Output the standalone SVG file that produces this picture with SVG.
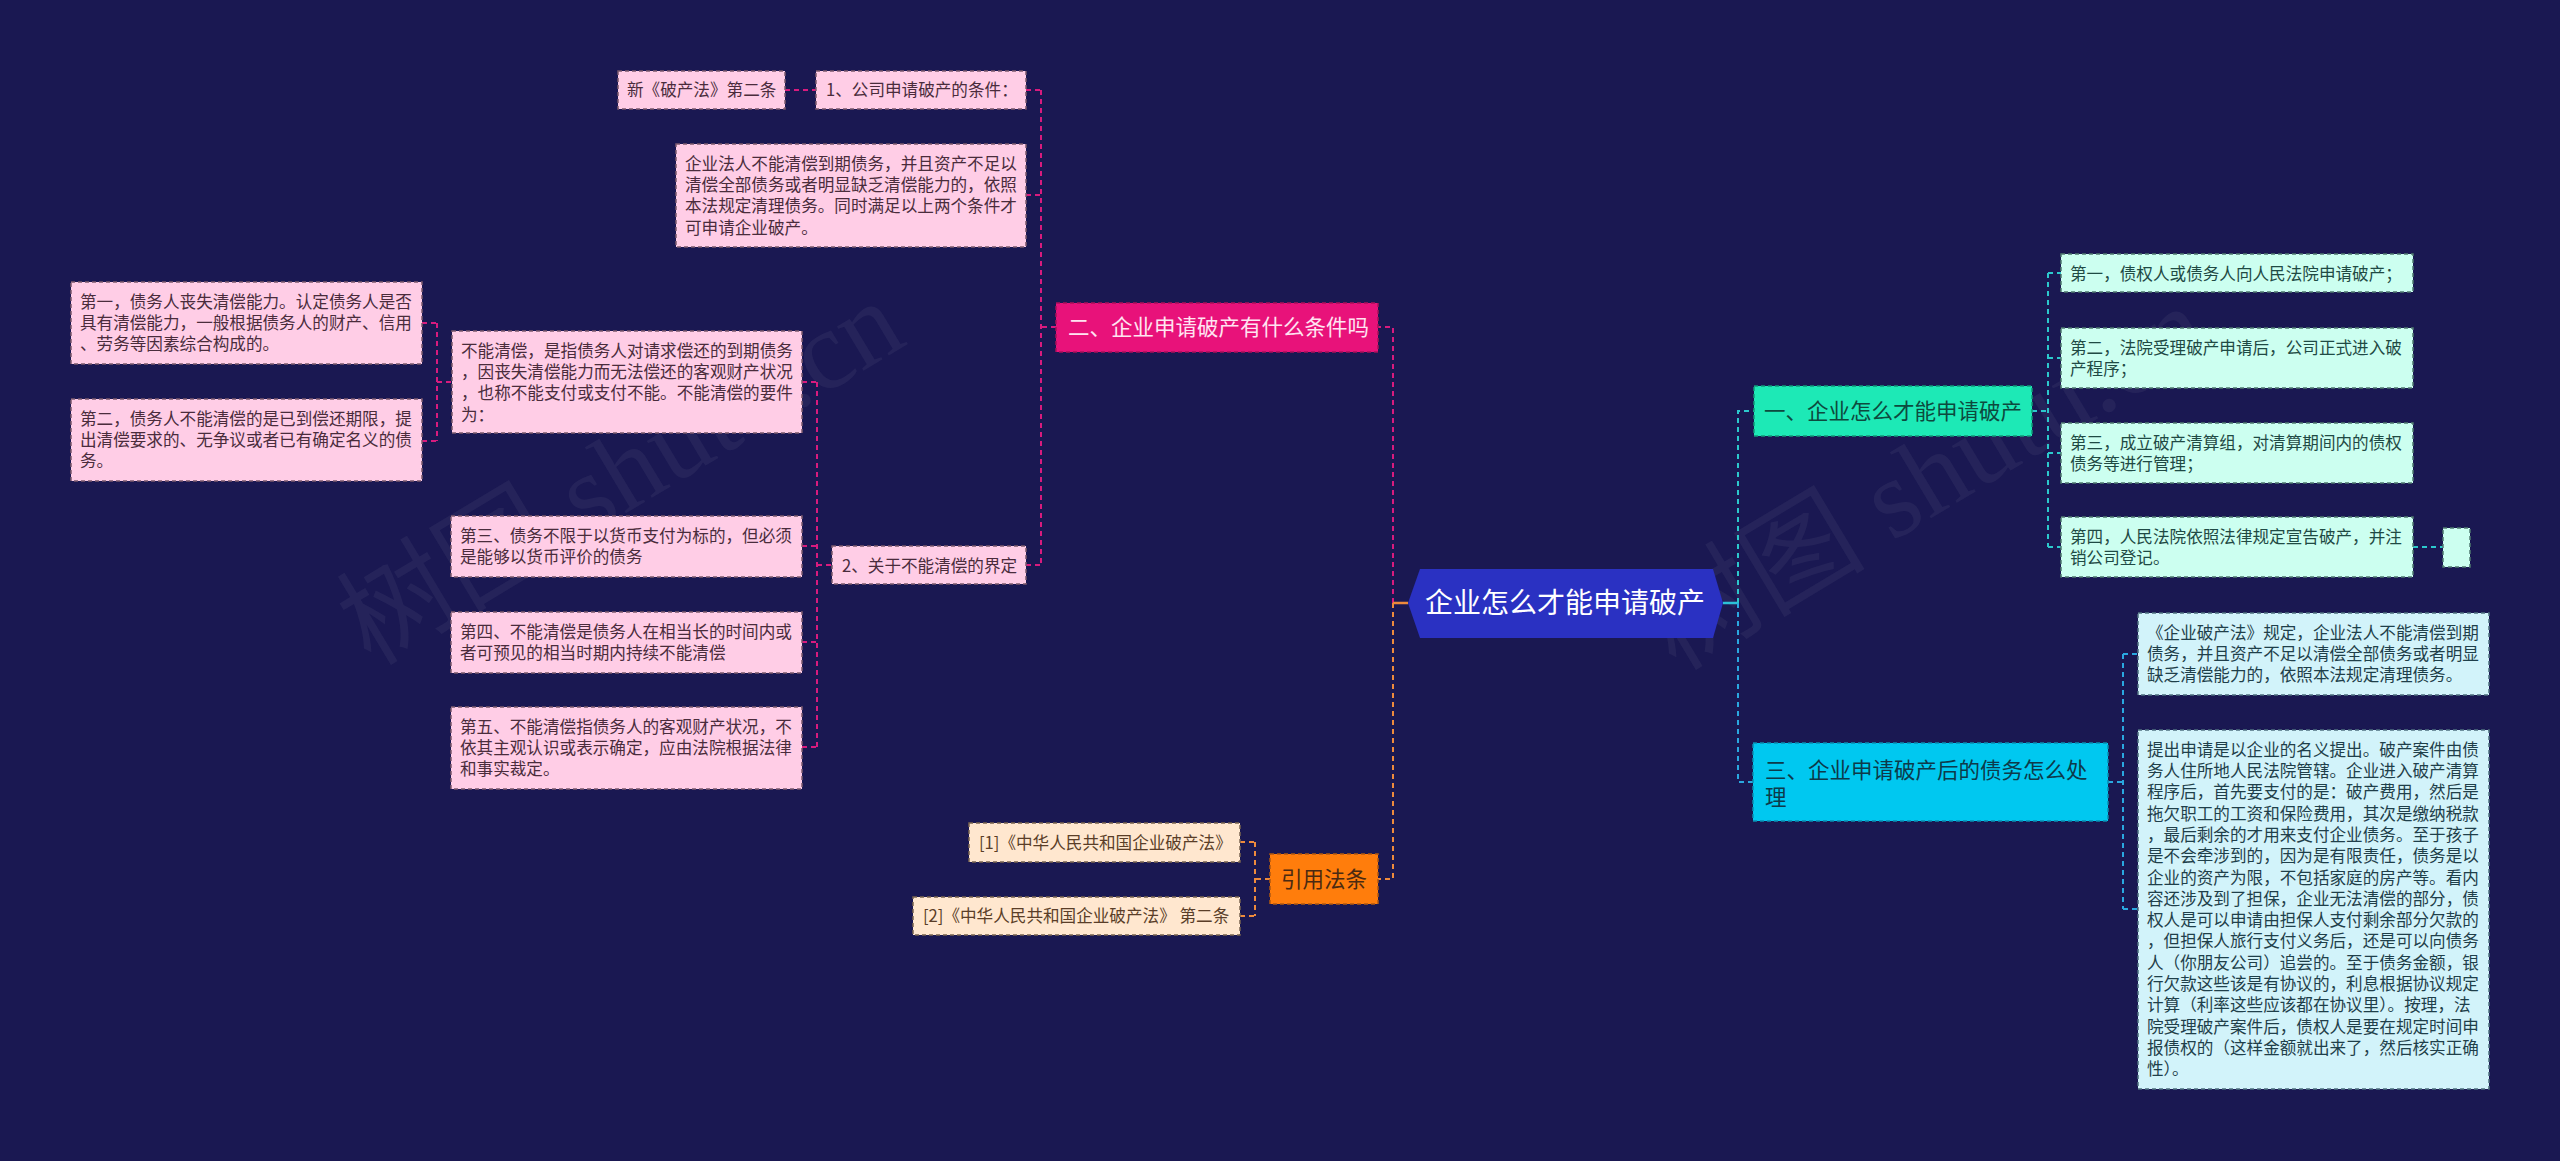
<svg xmlns="http://www.w3.org/2000/svg" width="2560" height="1161" viewBox="0 0 2560 1161">
<style>
text{font-family:"Noto Sans CJK SC","Noto Sans",sans-serif;}
.lf{font-size:16.6px;}
.mn{font-size:21.5px;}
.pk rect{fill:#ffcde6;stroke:#7c5a6e;stroke-width:1.5;stroke-dasharray:4 3;}
.pk text{fill:#4a2c3c;}
.mt rect{fill:#ccfff0;stroke:#4f7a70;stroke-width:1.5;stroke-dasharray:4 3;}
.mt text{fill:#1f4a44;}
.bl rect{fill:#d2f3fa;stroke:#4f7080;stroke-width:1.5;stroke-dasharray:4 3;}
.bl text{fill:#1f3f4a;}
.pc rect{fill:#ffe7cf;stroke:#7a6450;stroke-width:1.5;stroke-dasharray:4 3;}
.pc text{fill:#5a3e28;}
.c{fill:none;stroke-width:2;stroke-dasharray:5 4;}
.cp{stroke:#d81b7e;}
.co{stroke:#ee8a3c;}
.cc{stroke:#2cc8cc;}
.cb{stroke:#2aa8e0;}
.wm{font-family:"Liberation Serif","Noto Sans CJK SC",serif;font-size:112px;fill:#a0a0b0;fill-opacity:0.09;}
</style>
<rect width="2560" height="1161" fill="#1a1852"/>

<g id="watermarks">
<text class="wm" transform="translate(640,505) rotate(-31)" text-anchor="middle">树图 shutu.cn</text>
<text class="wm" transform="translate(1945,510) rotate(-31)" text-anchor="middle">树图 shutu.cn</text>
</g>

<g id="connectors">
<path class="c cp" d="M1393,603 V327 H1378"/>
<path class="c cp" d="M1056,327 H1041"/>
<path class="c cp" d="M1041,90 V565"/>
<path class="c cp" d="M1026,90 H1041 M1026,195 H1041 M1026,565 H1041"/>
<path class="c cp" d="M785,90 H816"/>
<path class="c cp" d="M817,382 V747"/>
<path class="c cp" d="M802,382 H817 M802,546 H817 M802,642 H817 M802,747 H817 M817,565 H832"/>
<path class="c cp" d="M437,323 V441"/>
<path class="c cp" d="M422,323 H437 M422,441 H437 M437,382 H452"/>
<path d="M1393,603 H1408" stroke="#ee8a3c" stroke-width="2.5" fill="none"/>
<path class="c co" d="M1393,603 V879 H1378"/>
<path class="c co" d="M1270,879 H1255"/>
<path class="c co" d="M1255,842 V916"/>
<path class="c co" d="M1240,842 H1255 M1240,916 H1255"/>
<path d="M1723,603 H1738" stroke="#2cc0d8" stroke-width="2.5" fill="none"/>
<path class="c cc" d="M1738,603 V411 H1754"/>
<path class="c cc" d="M2032,411 H2048"/>
<path class="c cc" d="M2048,273 V547"/>
<path class="c cc" d="M2048,273 H2061 M2048,358 H2061 M2048,453 H2061 M2048,547 H2061"/>
<path class="c cc" d="M2413,547 H2443"/>
<path class="c cb" d="M1738,603 V782 H1753"/>
<path class="c cb" d="M2108,782 H2123"/>
<path class="c cb" d="M2123,654 V909"/>
<path class="c cb" d="M2123,654 H2138 M2123,909 H2138"/>
</g>

<g id="root">
<polygon points="1408,603 1420,569 1713,569 1723,603 1713,638 1420,638" fill="#2a31c2"/>
<text x="1565" y="613" font-size="28" fill="#ffffff" text-anchor="middle">企业怎么才能申请破产</text>
</g>

<g id="n-er">
<rect x="1056" y="303" width="322" height="49" fill="#e8127a" stroke="#a8105a" stroke-width="1.5" stroke-dasharray="4 3"/>
<text class="mn" x="1068" y="335" fill="#ffe4f1">二、企业申请破产有什么条件吗</text>
</g>

<g id="n-1" class="pk">
<rect x="816" y="71" width="210" height="38"/>
<text class="lf" x="826" y="96">1、公司申请破产的条件：</text>
</g>
<g id="n-xin" class="pk">
<rect x="618" y="71" width="167" height="38"/>
<text class="lf" x="627" y="96">新《破产法》第二条</text>
</g>
<g id="n-qiye" class="pk">
<rect x="676" y="144" width="350" height="103"/>
<text class="lf"><tspan x="685" y="169.7">企业法人不能清偿到期债务，并且资产不足以</tspan><tspan x="685" y="191">清偿全部债务或者明显缺乏清偿能力的，依照</tspan><tspan x="685" y="212.3">本法规定清理债务。同时满足以上两个条件才</tspan><tspan x="685" y="233.6">可申请企业破产。</tspan></text>
</g>
<g id="n-2" class="pk">
<rect x="832" y="546" width="194" height="38"/>
<text class="lf" x="842" y="571.5">2、关于不能清偿的界定</text>
</g>
<g id="n-bn" class="pk">
<rect x="452" y="331" width="350" height="102"/>
<text class="lf"><tspan x="461" y="356.7">不能清偿，是指债务人对请求偿还的到期债务</tspan><tspan x="461" y="378">，因丧失清偿能力而无法偿还的客观财产状况</tspan><tspan x="461" y="399.3">，也称不能支付或支付不能。不能清偿的要件</tspan><tspan x="461" y="420.6">为：</tspan></text>
</g>
<g id="n-d1" class="pk">
<rect x="71" y="282" width="351" height="82"/>
<text class="lf"><tspan x="80" y="307.7">第一，债务人丧失清偿能力。认定债务人是否</tspan><tspan x="80" y="329">具有清偿能力，一般根据债务人的财产、信用</tspan><tspan x="80" y="350.3">、劳务等因素综合构成的。</tspan></text>
</g>
<g id="n-d2" class="pk">
<rect x="71" y="399" width="351" height="82"/>
<text class="lf"><tspan x="80" y="424.7">第二，债务人不能清偿的是已到偿还期限，提</tspan><tspan x="80" y="446">出清偿要求的、无争议或者已有确定名义的债</tspan><tspan x="80" y="467.3">务。</tspan></text>
</g>
<g id="n-d3" class="pk">
<rect x="451" y="516" width="351" height="61"/>
<text class="lf"><tspan x="460" y="541.7">第三、债务不限于以货币支付为标的，但必须</tspan><tspan x="460" y="563">是能够以货币评价的债务</tspan></text>
</g>
<g id="n-d4" class="pk">
<rect x="451" y="612" width="351" height="61"/>
<text class="lf"><tspan x="460" y="637.7">第四、不能清偿是债务人在相当长的时间内或</tspan><tspan x="460" y="659">者可预见的相当时期内持续不能清偿</tspan></text>
</g>
<g id="n-d5" class="pk">
<rect x="451" y="707" width="351" height="82"/>
<text class="lf"><tspan x="460" y="732.7">第五、不能清偿指债务人的客观财产状况，不</tspan><tspan x="460" y="754">依其主观认识或表示确定，应由法院根据法律</tspan><tspan x="460" y="775.3">和事实裁定。</tspan></text>
</g>

<g id="n-yy">
<rect x="1270" y="854" width="108" height="50" fill="#ff7d0c" stroke="#b05810" stroke-width="1.5" stroke-dasharray="4 3"/>
<text class="mn" x="1324" y="886.7" fill="#4a2a12" text-anchor="middle">引用法条</text>
</g>
<g id="n-r1" class="pc">
<rect x="969" y="823" width="271" height="39"/>
<text class="lf" x="979" y="848.5">[1]《中华人民共和国企业破产法》</text>
</g>
<g id="n-r2" class="pc">
<rect x="913" y="897" width="327" height="38"/>
<text class="lf" x="923" y="922">[2]《中华人民共和国企业破产法》 第二条</text>
</g>

<g id="n-yi">
<rect x="1754" y="386" width="278" height="50" fill="#1de9b6" stroke="#109878" stroke-width="1.5" stroke-dasharray="4 3"/>
<text class="mn" x="1764" y="418.7" fill="#0d4a3e">一、企业怎么才能申请破产</text>
</g>
<g id="n-m1" class="mt">
<rect x="2061" y="254" width="352" height="38"/>
<text class="lf" x="2070" y="279.5">第一，债权人或债务人向人民法院申请破产；</text>
</g>
<g id="n-m2" class="mt">
<rect x="2061" y="328" width="352" height="60"/>
<text class="lf"><tspan x="2070" y="353.7">第二，法院受理破产申请后，公司正式进入破</tspan><tspan x="2070" y="375">产程序；</tspan></text>
</g>
<g id="n-m3" class="mt">
<rect x="2061" y="423" width="352" height="60"/>
<text class="lf"><tspan x="2070" y="448.7">第三，成立破产清算组，对清算期间内的债权</tspan><tspan x="2070" y="470">债务等进行管理；</tspan></text>
</g>
<g id="n-m4" class="mt">
<rect x="2061" y="517" width="352" height="60"/>
<text class="lf"><tspan x="2070" y="542.7">第四，人民法院依照法律规定宣告破产，并注</tspan><tspan x="2070" y="564">销公司登记。</tspan></text>
</g>
<g id="n-m5" class="mt">
<rect x="2443" y="528" width="27" height="39"/>
</g>

<g id="n-san">
<rect x="1753" y="743" width="355" height="78" fill="#00c8f0" stroke="#0a8cb0" stroke-width="1.5" stroke-dasharray="4 3"/>
<text class="mn" fill="#0d3a4a"><tspan x="1765" y="777.7">三、企业申请破产后的债务怎么处</tspan><tspan x="1765" y="804.7">理</tspan></text>
</g>
<g id="n-b1" class="bl">
<rect x="2138" y="613" width="351" height="82"/>
<text class="lf"><tspan x="2147" y="638.7">《企业破产法》规定，企业法人不能清偿到期</tspan><tspan x="2147" y="660">债务，并且资产不足以清偿全部债务或者明显</tspan><tspan x="2147" y="681.3">缺乏清偿能力的，依照本法规定清理债务。</tspan></text>
</g>
<g id="n-b2" class="bl">
<rect x="2138" y="730" width="351" height="359"/>
<text class="lf"><tspan x="2147" y="755.7">提出申请是以企业的名义提出。破产案件由债</tspan><tspan x="2147" y="777">务人住所地人民法院管辖。企业进入破产清算</tspan><tspan x="2147" y="798.3">程序后，首先要支付的是：破产费用，然后是</tspan><tspan x="2147" y="819.6">拖欠职工的工资和保险费用，其次是缴纳税款</tspan><tspan x="2147" y="840.9">，最后剩余的才用来支付企业债务。至于孩子</tspan><tspan x="2147" y="862.2">是不会牵涉到的，因为是有限责任，债务是以</tspan><tspan x="2147" y="883.5">企业的资产为限，不包括家庭的房产等。看内</tspan><tspan x="2147" y="904.8">容还涉及到了担保，企业无法清偿的部分，债</tspan><tspan x="2147" y="926.1">权人是可以申请由担保人支付剩余部分欠款的</tspan><tspan x="2147" y="947.4">，但担保人旅行支付义务后，还是可以向债务</tspan><tspan x="2147" y="968.7">人（你朋友公司）追尝的。至于债务金额，银</tspan><tspan x="2147" y="990">行欠款这些该是有协议的，利息根据协议规定</tspan><tspan x="2147" y="1011.3">计算（利率这些应该都在协议里）。按理，法</tspan><tspan x="2147" y="1032.6">院受理破产案件后，债权人是要在规定时间申</tspan><tspan x="2147" y="1053.9">报债权的（这样金额就出来了，然后核实正确</tspan><tspan x="2147" y="1075.2">性）。</tspan></text>
</g>
</svg>
